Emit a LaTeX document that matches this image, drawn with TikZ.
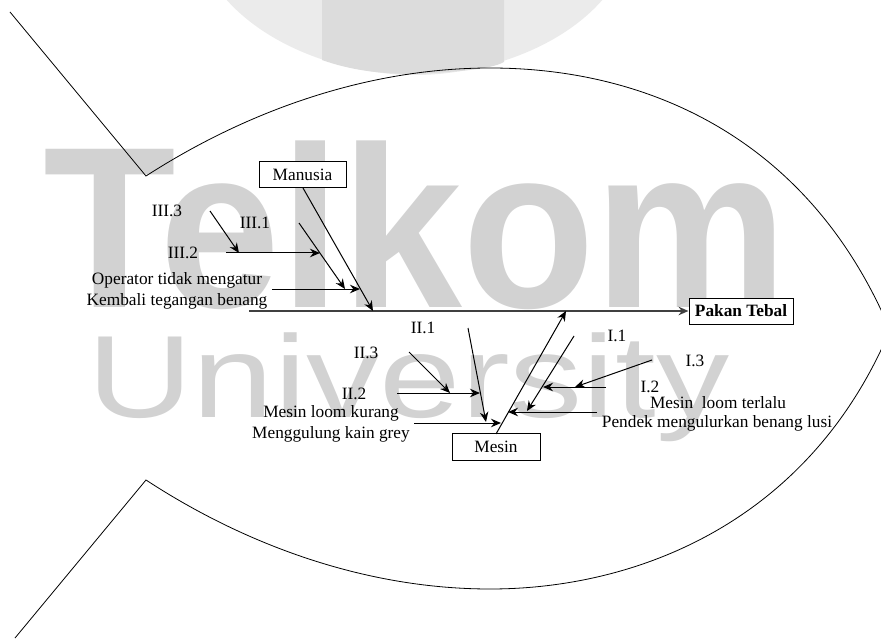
\documentclass[tikz,border=0pt]{standalone}
\usepackage{fontspec}
\setmainfont{Liberation Serif}
\newfontfamily\wmfont{Liberation Sans}
\usetikzlibrary{arrows.meta}
\definecolor{wmletter}{HTML}{D2D2D2}
\definecolor{wmlight}{HTML}{EBEBEB}
\definecolor{wmdark}{HTML}{DCDCDC}
\tikzset{
  lab/.style={inner sep=0pt,font=\fontsize{17.3}{17.3}\selectfont},
  boxn/.style={draw,line width=1pt,fill=white,inner sep=0pt,font=\fontsize{17.3}{17.3}\selectfont},
  arr/.style={line width=1pt,-{Stealth[length=10pt,width=8.5pt]}},
  body/.style={line width=0.8pt},
  wm/.style={inner sep=0pt,text=wmletter,anchor=base west}
}
\begin{document}
\begin{tikzpicture}[x=1pt,y=-1pt]
\useasboundingbox (0,0) rectangle (881,639);
\begin{scope}
\clip (0,0) rectangle (881,639);
% watermark
\fill[wmlight] (225,-2) .. controls (270,50) and (350,75) .. (415,75) .. controls (480,75) and (560,50) .. (604,-2) -- cycle;
\fill[wmdark] (322,-2) -- (322,60) .. controls (350,70) and (380,74) .. (415,74) .. controls (450,72) and (490,70) .. (504,62) -- (504,-2) -- cycle;
\node[wm,font=\wmfont\bfseries\fontsize{230}{230}\selectfont,xscale=0.945] (wmA) at (43,307) {Telkom};
\node[wm,font=\wmfont\fontsize{117}{117}\selectfont,xscale=1.25] (wmB) at (87,417) {University};
% fish outline
\draw[body] (10,12) -- (146,176) .. controls (250,109) and (370,68) .. (490,68) .. controls (650,68) and (810,140) .. (890,330) .. controls (810,520) and (640,589) .. (490,589) .. controls (370,589) and (250,548) .. (146,480) -- (15,638);
\end{scope}
% boxes
\node[boxn,minimum width=87pt,minimum height=26pt] (manusia) at (302.5,175) {Manusia};
\node[boxn,minimum width=88pt,minimum height=27pt] (mesin) at (496,447) {Mesin};
\node[boxn,minimum width=104pt,minimum height=26pt,font=\fontsize{17.3}{17.3}\selectfont\bfseries] (pakan) at (741,311) {Pakan Tebal};
% free ends
\coordinate (s0) at (249,311);
\coordinate (sm) at (373,311);
\coordinate (sn) at (566,311);
\coordinate (a1) at (299,223); \coordinate (a2) at (345,289);
\coordinate (b1) at (210,211); \coordinate (b2) at (239,253);
\coordinate (c1) at (226,253); \coordinate (c2) at (320,253);
\coordinate (d1) at (272,289); \coordinate (d2) at (360,289);
\coordinate (e1) at (468,328); \coordinate (e2) at (486,422);
\coordinate (f1) at (409,352); \coordinate (f2) at (450,393);
\coordinate (g1) at (397,393); \coordinate (g2) at (480,393);
\coordinate (h1) at (414,423); \coordinate (h2) at (501,423);
\coordinate (i1) at (574,336); \coordinate (i2) at (527,411);
\coordinate (j1) at (652,360); \coordinate (j2) at (575,387);
\coordinate (k1) at (606,387); \coordinate (k2) at (543,387);
\coordinate (l1) at (597,412); \coordinate (l2) at (508,412);
% spine and bones
\draw[line width=1.5pt,black!75,-{Stealth[length=10pt,width=8.5pt]}] (s0) -- (pakan.west);
\draw[arr] (303,188) -- (sm);
\draw[arr] (496,434) -- (sn);
\foreach \p in {a,b,c,d,e,f,g,h,i,j,k,l}{\draw[arr] (\p1) -- (\p2);}
% labels
\node[lab] (t1) at (167,211) {III.3};
\node[lab] (t2) at (255,223) {III.1};
\node[lab] (t3) at (183,253) {III.2};
\node[lab] (t4) at (177,280) {Operator tidak mengatur};
\node[lab] (t5) at (177,301) {Kembali tegangan benang};
\node[lab] (t6) at (423,328) {II.1};
\node[lab] (t7) at (366,353) {II.3};
\node[lab] (t8) at (354,394) {II.2};
\node[lab] (t9) at (331,413) {Mesin loom kurang};
\node[lab] (t10) at (331,434) {Menggulung kain grey};
\node[lab] (t11) at (617,336) {I.1};
\node[lab] (t12) at (695,361) {I.3};
\node[lab] (t13) at (650,387) {I.2};
\node[lab] (t14) at (718,403) {Mesin\ \ loom terlalu};
\node[lab] (t15) at (717,423) {Pendek mengulurkan benang lusi};
\end{tikzpicture}
\end{document}
